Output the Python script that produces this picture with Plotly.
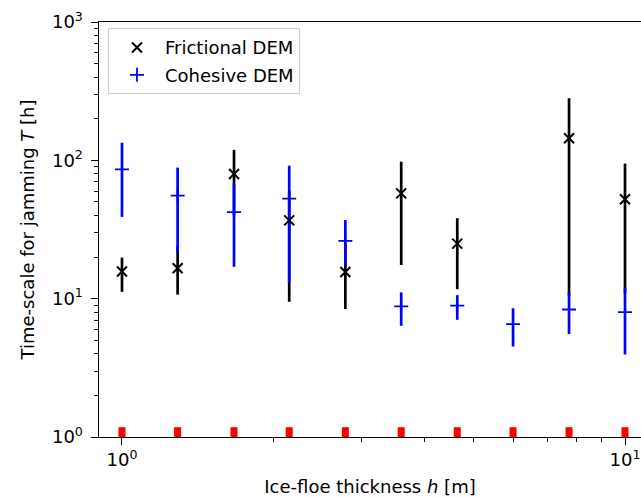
import plotly.graph_objects as go

# ---- data ----
h = [1.0, 1.29, 1.67, 2.15, 2.78, 3.59, 4.64, 5.99, 7.74, 10.0]

fric_T = [15.7, 16.6, 79.6, 36.8, 15.6, 57.7, 25.0, None, 144.6, 52.3]
fric_low = [11.2, 10.7, 40.0, 9.5, 8.4, 17.5, 11.7, None, 10.5, 11.0]
fric_high = [19.8, 24.0, 119.0, 60.0, 25.0, 97.8, 38.2, None, 281.0, 94.7]

coh_T = [86.0, 55.6, 42.2, 52.9, 26.2, 8.8, 8.9, 6.55, 8.35, 7.98]
coh_low = [39.0, 21.5, 17.0, 13.1, 17.3, 6.37, 7.03, 4.51, 5.55, 3.95]
coh_high = [134.0, 88.6, 68.0, 91.6, 37.0, 11.1, 10.6, 8.53, 11.1, 12.05]

axis_marks_T = [1, 1, 1, 1, 1, 1, 1, 1, 1, 1]

x_tickvals = [1, 10]
x_ticktext = ["10<sup>0</sup>", "10<sup>1</sup>"]
y_tickvals = [1, 10, 100, 1000]
y_ticktext = ["10<sup>0</sup>", "10<sup>1</sup>", "10<sup>2</sup>", "10<sup>3</sup>"]


def plus(v, hi):
    return [None if a is None else b - a for a, b in zip(v, hi)]


def minus(v, lo):
    return [None if a is None else a - b for a, b in zip(v, lo)]


FONT = "DejaVu Sans"
BAR_W = 2.7

fig = go.Figure()

# frictional error bars (below cohesive)
fig.add_trace(go.Scatter(
    x=h, y=fric_T, mode="markers", showlegend=False, hoverinfo="skip",
    marker=dict(color="rgba(0,0,0,0)", size=1),
    error_y=dict(type="data", symmetric=False, array=plus(fric_T, fric_high),
                 arrayminus=minus(fric_T, fric_low), color="black",
                 thickness=BAR_W, width=0),
))

# cohesive
fig.add_trace(go.Scatter(
    x=h, y=coh_T, mode="markers", name="Cohesive DEM", legendrank=2,
    legendgroup="coh",
    marker=dict(symbol="cross-thin", size=10, color="blue",
                line=dict(color="blue", width=1.8)),
    error_y=dict(type="data", symmetric=False, array=plus(coh_T, coh_high),
                 arrayminus=minus(coh_T, coh_low), color="blue",
                 thickness=BAR_W, width=0),
))

# frictional markers on top
fig.add_trace(go.Scatter(
    x=h, y=fric_T, mode="markers", name="Frictional DEM", legendrank=1,
    legendgroup="fric",
    marker=dict(symbol="x-thin", size=10, color="black",
                line=dict(color="black", width=2)),
))

# red marks on the h axis
fig.add_trace(go.Scatter(
    x=h, y=axis_marks_T, mode="markers", showlegend=False, hoverinfo="skip",
    cliponaxis=True,
    marker=dict(symbol="line-ns", size=14, color="red",
                line=dict(color="red", width=7)),
))

fig.update_layout(
    width=641, height=497,
    margin=dict(l=99, r=0, t=22, b=56),
    paper_bgcolor="white", plot_bgcolor="white",
    font=dict(family=FONT, size=18, color="black"),
    legend=dict(x=0.0166, y=0.985, xanchor="left", yanchor="top",
                bordercolor="#cccccc", borderwidth=1,
                bgcolor="rgba(255,255,255,0.8)",
                font=dict(family=FONT, size=18),
                traceorder="grouped", tracegroupgap=1, itemwidth=46),
    xaxis=dict(
        type="log", range=[-0.0457, 1.0318],
        showline=True, linecolor="black", linewidth=1.44, mirror=True,
        ticks="outside", ticklen=6.3, tickwidth=1.44, tickcolor="black",
        tickvals=x_tickvals, ticktext=x_ticktext,
        minor=dict(tickvals=[2, 3, 4, 5, 6, 7, 8, 9], ticks="outside",
                   ticklen=3.6, tickwidth=1.1, tickcolor="black", showgrid=False),
        showgrid=False, zeroline=False,
        title=dict(text="Ice-floe thickness <i>h</i> [m]", standoff=14,
                   font=dict(family=FONT, size=18)),
    ),
    yaxis=dict(
        type="log", range=[0, 3],
        showline=True, linecolor="black", linewidth=1.44, mirror=False,
        ticks="outside", ticklen=6.3, tickwidth=1.44, tickcolor="black",
        ticklabelstandoff=5,
        tickvals=y_tickvals, ticktext=y_ticktext,
        minor=dict(tickvals=[m * 10 ** d for d in range(3) for m in range(2, 10)],
                   ticks="outside", ticklen=3.6, tickwidth=1.1,
                   tickcolor="black", showgrid=False),
        showgrid=False, zeroline=False,
        title=dict(text="Time-scale for jamming <i>T</i> [h]", standoff=12,
                   font=dict(family=FONT, size=18)),
    ),
)

fig.write_html(
    "out.html",
    config={"displayModeBar": False},
    post_script="document.body.style.margin='0';document.body.style.overflow='hidden';",
)
